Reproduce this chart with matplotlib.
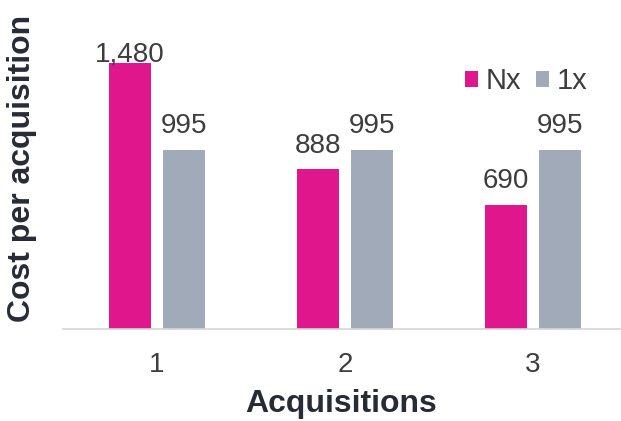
import numpy as np
import matplotlib.pyplot as plt

plt.rcParams['font.family'] = ['Liberation Sans', 'DejaVu Sans']

categories = ['1', '2', '3']
nx_values = [1480, 888, 690]
onex_values = [995, 995, 995]
nx_labels = ['1,480', '888', '690']
onex_labels = ['995', '995', '995']

magenta = '#E0168D'
slate = '#A1AAB9'
text_grey = '#3d3d3d'
title_dark = '#262b36'

fig = plt.figure(figsize=(6.21, 4.21), dpi=100)
ax = fig.add_axes([0.1014, 0.2185, 0.897, 0.7577])

x = np.arange(len(categories))
w = 0.223
off = 0.1436
b1 = ax.bar(x - off, nx_values, w, color=magenta, label='Nx')
b2 = ax.bar(x + off, onex_values, w, color=slate, label='1x')

# value labels (the tallest one sits right on top of its bar)
nx_pad = [1, 12, 12]
for rect, lab, p in zip(b1, nx_labels, nx_pad):
    ax.annotate(lab, (rect.get_x() + rect.get_width() / 2, rect.get_height()),
                xytext=(0, p), textcoords='offset points', ha='center', va='baseline',
                fontsize=20, color=text_grey)
for rect, lab in zip(b2, onex_labels):
    ax.annotate(lab, (rect.get_x() + rect.get_width() / 2, rect.get_height()),
                xytext=(0, 12), textcoords='offset points', ha='center', va='baseline',
                fontsize=20, color=text_grey)

ax.set_xlim(-0.5, 2.463)
ax.set_ylim(0, 1774)
ax.set_xticks(x)
ax.set_xticklabels(categories)
ax.set_yticks([])
ax.tick_params(axis='x', length=0, pad=16.5, labelsize=20, labelcolor=text_grey)
for s in ['top', 'right', 'left']:
    ax.spines[s].set_visible(False)
ax.spines['bottom'].set_color('#d6d6d6')
ax.spines['bottom'].set_linewidth(1.2)

ax.set_xlabel('Acquisitions', fontsize=23, fontweight='bold', color=title_dark, labelpad=8)
ax.set_ylabel('Cost per acquisition', fontsize=23, fontweight='bold', color=title_dark)
ax.yaxis.set_label_coords(-0.047, 0.503)

leg = ax.legend(loc='center right', bbox_to_anchor=(0.941, 0.777), ncol=2, frameon=False,
                fontsize=21, handlelength=0.45, handleheight=0.45, handletextpad=0.25,
                columnspacing=0.5, labelcolor=text_grey, borderaxespad=0, borderpad=0)

fig.savefig('out.png', dpi=100)
